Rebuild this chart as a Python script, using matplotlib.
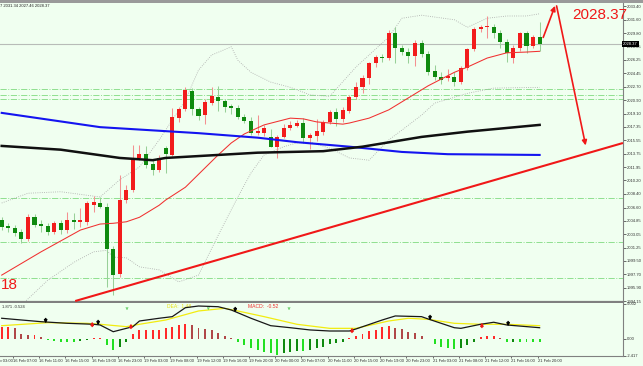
import matplotlib
matplotlib.use("Agg")
import matplotlib.pyplot as plt
import matplotlib.transforms as mtransforms
from matplotlib.patches import Rectangle
import numpy as np

# ---- XAUUSD H1 candles ----
opens = [2004.9, 2004.1, 2003.9, 2003.3, 2002.4, 2005.4, 2004.4, 2004.1, 2003.3, 2004.5,
         2003.6, 2004.9, 2004.7, 2004.7, 2007.0, 2007.2, 2006.7, 2001.1, 1997.8, 2007.6,
         2008.9, 2013.2, 2013.7, 2012.4, 2011.6, 2014.5, 2013.6, 2018.5, 2019.7, 2022.1,
         2019.7, 2018.9, 2020.5, 2021.3, 2020.8, 2020.1, 2019.9, 2018.7, 2018.1, 2016.5,
         2016.5, 2016.0, 2014.7, 2016.0, 2017.2, 2017.5, 2017.9, 2015.9, 2016.1, 2016.65,
         2018.0, 2019.3, 2018.4, 2019.5, 2021.3, 2022.6, 2023.9, 2025.8, 2026.6, 2026.5,
         2029.8, 2027.9, 2027.3, 2026.8, 2028.5, 2027.0, 2024.8, 2024.0, 2023.8, 2024.0,
         2023.3, 2025.2, 2027.7, 2030.4, 2030.6, 2030.7, 2029.8, 2028.6, 2026.5, 2027.9,
         2029.8, 2028.1, 2029.27]
highs = [2005.4, 2004.6, 2004.3, 2003.8, 2005.7, 2005.8, 2005.0, 2004.6, 2004.8, 2004.9,
         2006.0, 2005.9, 2006.6, 2007.5, 2008.1, 2008.0, 2007.2, 2001.5, 2010.9, 2009.6,
         2014.9, 2014.9, 2014.8, 2012.9, 2013.6, 2014.8, 2019.8, 2020.0, 2022.6, 2022.5,
         2020.0, 2021.0, 2022.6, 2022.8, 2021.1, 2020.4, 2020.3, 2019.0, 2018.7, 2018.9,
         2017.6, 2017.0, 2016.2, 2017.7, 2018.1, 2018.3, 2018.5, 2016.5, 2018.4, 2018.3,
         2019.6, 2019.8, 2020.0, 2021.6, 2023.3, 2024.2, 2026.0, 2026.9, 2027.0, 2030.3,
         2030.6, 2028.3, 2027.8, 2028.9, 2028.9, 2027.4, 2025.6, 2024.6, 2025.0, 2024.7,
         2025.4, 2027.9, 2030.7, 2030.9, 2032.1, 2031.0, 2030.3, 2029.0, 2028.2, 2030.0,
         2030.1, 2029.6, 2031.34]
lows = [2003.6, 2003.4, 2002.8, 2001.9, 2002.2, 2004.0, 2003.3, 2003.0, 2003.1, 2003.1,
        2003.2, 2003.8, 2004.0, 2004.3, 2006.0, 2006.6, 1996.0, 1995.0, 1997.3, 2007.2,
        2008.6, 2012.9, 2011.8, 2010.9, 2011.3, 2011.2, 2013.4, 2018.0, 2019.5, 2018.9,
        2018.2, 2017.7, 2020.3, 2019.5, 2019.3, 2019.0, 2018.4, 2017.8, 2016.2, 2016.2,
        2016.1, 2014.6, 2013.2, 2015.8, 2016.9, 2017.3, 2015.2, 2014.4, 2015.4, 2016.3,
        2017.7, 2017.5, 2018.0, 2019.2, 2021.0, 2021.8, 2023.0, 2025.3, 2026.0, 2026.2,
        2025.9, 2026.9, 2025.8, 2025.5, 2026.6, 2024.2, 2023.6, 2023.1, 2023.4, 2022.8,
        2023.0, 2024.9, 2027.5, 2030.0, 2029.2, 2029.2, 2027.9, 2026.0, 2025.8, 2027.4,
        2027.2, 2027.9, 2027.46]
closes = [2004.0, 2003.9, 2003.2, 2002.4, 2005.4, 2004.3, 2004.1, 2003.3, 2004.5, 2003.6,
          2004.9, 2004.7, 2004.9, 2007.2, 2007.3, 2006.7, 2001.1, 1997.6, 2007.6, 2008.9,
          2013.2, 2013.7, 2012.3, 2011.6, 2013.2, 2013.7, 2018.7, 2019.7, 2022.2, 2019.7,
          2018.8, 2020.6, 2021.4, 2020.8, 2020.0, 2019.8, 2018.6, 2018.1, 2016.5, 2016.8,
          2017.2, 2014.7, 2016.0, 2017.2, 2017.6, 2017.9, 2015.9, 2016.2, 2016.8, 2018.0,
          2019.3, 2018.4, 2019.6, 2021.3, 2022.6, 2023.9, 2025.8, 2026.6, 2026.5, 2029.8,
          2027.9, 2027.3, 2026.8, 2028.5, 2027.0, 2024.6, 2024.0, 2023.6, 2024.1, 2023.3,
          2025.2, 2027.7, 2030.4, 2030.6, 2030.7, 2029.8, 2028.6, 2027.2, 2027.9, 2029.8,
          2028.1, 2029.3, 2028.37]
last_price = 2028.37

# indicator lines, sampled at candle index
blue_idx = [0, 15, 30, 39, 45, 53, 61, 68, 82]
blue_ma = [2019.2, 2017.3, 2016.5, 2015.9, 2015.3, 2014.7, 2014.0, 2013.7, 2013.6]
black_idx = [0, 9, 18, 23, 25, 33, 39, 49, 55, 64, 71, 82]
black_ma = [2014.8, 2014.3, 2013.2, 2012.9, 2013.2, 2013.6, 2013.9, 2014.1, 2014.7, 2016.0, 2016.7, 2017.6]
red_idx = [0, 6, 12, 15, 17, 19, 21, 24, 25, 28, 33, 35, 37, 40, 44, 46, 48, 52, 53, 56,
           59, 62, 65, 69, 71, 74, 77, 80, 82]
red_ma = [1997.6, 2000.7, 2003.6, 2004.4, 2004.5, 2004.7, 2005.3, 2006.9, 2007.6, 2009.3,
          2013.6, 2015.2, 2016.4, 2017.6, 2018.5, 2018.4, 2018.0, 2017.7, 2017.85, 2018.5,
          2019.6, 2021.2, 2022.8, 2024.6, 2025.3, 2026.5, 2027.2, 2027.3, 2027.4]
bb_up_idx = [0, 4, 9, 15, 18, 21, 24, 28, 30, 32, 35, 36, 38, 41, 44, 47, 50, 54, 59, 61,
             64, 69, 71, 74, 77, 80, 82]
bb_up = [2007.2, 2008.5, 2008.7, 2008.0, 2010.3, 2012.0, 2015.6, 2020.9, 2024.9, 2026.9,
         2028.0, 2026.2, 2024.6, 2023.3, 2022.6, 2021.6, 2021.4, 2025.3, 2029.3, 2031.8,
         2032.2, 2031.6, 2030.6, 2031.8, 2032.1, 2032.1, 2032.4]
bb_lo_idx = [3, 7, 11, 14, 16, 17, 19, 21, 24, 27, 30, 33, 36, 38, 40, 43, 45, 47, 50, 53,
             56, 59, 61, 64, 66, 71, 75, 82]
bb_lo = [1993.6, 1996.9, 1999.3, 2000.7, 2000.9, 2000.0, 1999.9, 1998.7, 1998.3, 1996.7,
         1997.6, 2002.9, 2008.0, 2011.2, 2013.6, 2014.7, 2015.2, 2015.3, 2014.5, 2013.2,
         2012.9, 2015.6, 2016.9, 2018.9, 2020.5, 2021.8, 2022.5, 2022.6]
levels = [2022.38, 2021.58, 2021.05, 2007.86, 2002.0, 1997.2]
trend_idx = [11.2, 94.7]
trend_px = [1994.15, 2015.19]
path_idx = [82.4, 84.5, 89.1]
path_px = [2028.9, 2033.8, 2014.5]

price_ticks = [1994.15, 1995.90, 1997.70, 1999.50, 2001.25, 2003.05, 2004.85, 2006.60,
               2008.40, 2010.20, 2011.95, 2013.75, 2015.55, 2017.35, 2019.10, 2020.90,
               2022.70, 2024.45, 2026.25, 2028.05, 2029.80, 2031.60, 2033.40]

# ---- MACD panel ----
hist = [1.76, 1.76, 1.52, 0.67, 0.57, 0.57, 0.33, -0.14, -0.29, -0.38,
        -0.38, -0.38, -0.29, -0.19, 0.10, 0.19, -0.86, -1.57, -1.10, -0.38,
        0.67, 1.29, 1.29, 1.29, 1.29, 1.52, 1.76, 2.00, 2.10, 2.00,
        1.62, 1.43, 1.29, 0.81, 0.48, 0.19, -0.38, -0.86, -1.33, -1.57,
        -1.81, -2.05, -2.29, -2.05, -1.81, -1.71, -1.71, -1.57, -1.30, -1.10,
        -0.76, -0.62, -0.48, 0.19, 0.48, 0.67, 1.14, 1.29, 1.76, 1.90,
        1.62, 1.43, 1.05, 0.81, 0.48, -0.05, -0.76, -1.10, -1.24, -1.43,
        -1.24, -0.86, -0.38, 0.33, 0.48, 0.48, 0.19, -0.48, -0.38, -0.38,
        -0.38, -0.38, -0.48]
macd_idx = [0, 6, 10, 14, 15, 17, 20, 21, 24, 26, 28, 30, 33, 35, 38, 41, 44, 47, 50, 53,
            54, 58, 60, 64, 65, 69, 70, 73, 75, 77, 82]
macd_line = [2.96, 2.47, 2.24, 2.10, 2.00, 1.04, 1.76, 2.57, 2.96, 3.19, 4.47, 4.71, 4.61,
             4.14, 2.96, 1.90, 1.61, 1.29, 1.14, 1.14, 1.43, 2.71, 3.29, 3.19, 2.86, 1.61,
             1.52, 2.10, 2.39, 2.00, 1.61]
sig_idx = [0, 7, 13, 15, 19, 21, 25, 30, 34, 36, 40, 45, 50, 54, 59, 62, 65, 69, 73, 77, 82]
sig_line = [1.90, 2.33, 2.24, 2.10, 1.76, 2.10, 2.71, 4.00, 4.38, 4.00, 3.19, 2.10, 1.52,
            1.52, 2.57, 2.96, 2.81, 2.24, 2.10, 2.10, 1.90]
sell_idx = [6.7, 14.7, 35.6, 65.3, 77.2]
sell_val = [2.57, 2.29, 4.14, 3.00, 2.14]
buy_idx = [13.8, 19.7, 53.4, 73.2]
buy_val = [2.14, 1.86, 1.29, 2.00]
hint_idx = [19.1, 31.5, 43.8]

tick_idx = [2, 6, 10, 14, 18, 22, 26, 30, 34, 38, 42, 46, 50, 54, 58, 62, 66, 70, 74, 78, 82]
tick_lbl = ["16 Feb 07:00", "16 Feb 11:00", "16 Feb 15:00", "16 Feb 19:00", "16 Feb 23:00",
            "19 Feb 03:00", "19 Feb 08:00", "19 Feb 12:00", "19 Feb 16:00", "19 Feb 20:00",
            "20 Feb 00:00", "20 Feb 07:00", "20 Feb 11:00", "20 Feb 15:00", "20 Feb 19:00",
            "20 Feb 23:00", "21 Feb 03:00", "21 Feb 08:00", "21 Feb 12:00", "21 Feb 16:00",
            "21 Feb 20:00"]

BG = "#F0FFF0"
GRID = "#808080"
FONT = "Liberation Sans"
SMALL = 3.0
W, H = 643, 366


def box(x0, y0, x1, y1):
    return [x0 / W, 1 - y1 / H, (x1 - x0) / W, (y1 - y0) / H]


fig = plt.figure(figsize=(6.43, 3.66), dpi=100)
fig.patch.set_facecolor(BG)
fig.patches.append(Rectangle((0, 1 - 2.5 / H), 1, 2.5 / H, transform=fig.transFigure,
                             facecolor="#9A9A9A", edgecolor="none"))
ax = fig.add_axes(box(0, 3, 623, 302))
axm = fig.add_axes(box(0, 303, 623, 356), sharex=ax)
for a in (ax, axm):
    a.set_facecolor(BG)
    a.spines["left"].set_visible(False)
    a.spines["top"].set_visible(False)
    a.spines["right"].set_color(GRID)
    a.spines["right"].set_linewidth(0.8)
    a.spines["bottom"].set_color(GRID)
ax.spines["bottom"].set_linewidth(1.6)
axm.spines["bottom"].set_linewidth(0.8)

n = len(opens)
x = np.arange(n)
ax.set_xlim(-0.26, 94.71)
ax.set_ylim(1994.02, 2033.83)

# support / resistance levels and bid line
for lv in levels:
    ax.axhline(lv, color="#8FE08F", lw=0.7, ls="-.", zorder=1)
ax.axhline(last_price, color="#B8BCB8", lw=0.8, zorder=1)

# bands
ax.plot(bb_up_idx, bb_up, color="#A8A8A8", lw=0.6, ls=":", zorder=2)
ax.plot(bb_lo_idx, bb_lo, color="#A8A8A8", lw=0.6, ls=":", zorder=2)

# candles
for i in range(n):
    o, h, l, c = opens[i], highs[i], lows[i], closes[i]
    up = c >= o
    ax.vlines(i, l, h, color="#F49090" if up else "#98D098", lw=0.75, zorder=3)
    body = max(abs(c - o), 0.12)
    ax.bar(i, body, bottom=min(o, c), width=0.62, color="#F21C1C" if up else "#0F8A0F",
           linewidth=0, zorder=4)

# moving averages
ax.plot(red_idx, red_ma, color="#F03030", lw=0.75, zorder=5)
ax.plot(blue_idx, blue_ma, color="#1414F0", lw=1.5, zorder=5)
ax.plot(black_idx, black_ma, color="#101010", lw=1.8, zorder=5)

# trend line and projected path
ax.plot(trend_idx, trend_px, color="#F01818", lw=1.5, zorder=6, solid_capstyle="butt")
ax.annotate("", xy=(path_idx[1], path_px[1]), xytext=(path_idx[0], path_px[0]),
            arrowprops=dict(arrowstyle="-|>", color="#F01818", lw=1.2, mutation_scale=7),
            annotation_clip=False, zorder=7)
ax.annotate("", xy=(path_idx[2], path_px[2]), xytext=(path_idx[1], path_px[1]),
            arrowprops=dict(arrowstyle="-|>", color="#F01818", lw=1.2, mutation_scale=7),
            annotation_clip=False, zorder=7)

ax.text(86.9, 2032.2, "2028.37", color="#F01818", fontsize=11, family=FONT,
        ha="left", va="center", zorder=8)
ax.text(2.5, 1996.3, "18", color="#F01818", fontsize=11, family=FONT,
        ha="right", va="center", zorder=8)
ax.text(0.0, 0.998, "7 2031.34 2027.46 2028.37", transform=ax.transAxes, fontsize=SMALL,
        family=FONT, color="#202020", ha="left", va="top")

# right price scale
ax.yaxis.tick_right()
ax.set_yticks(price_ticks)
ax.set_yticklabels(["%.2f" % p for p in price_ticks], family=FONT)
ax.tick_params(axis="y", direction="out", length=2, width=0.5, pad=0.8, labelsize=SMALL,
               colors="#303030")
ax.tick_params(axis="x", bottom=False, labelbottom=False)
ax.text(1.0, last_price, "%.2f" % last_price,
        transform=mtransforms.blended_transform_factory(ax.transAxes, ax.transData),
        fontsize=SMALL, family=FONT, color="white", ha="left", va="center", zorder=10,
        bbox=dict(facecolor="black", edgecolor="none", pad=0.9), clip_on=False)

# ---- MACD ----
axm.set_ylim(-2.43, 5.14)
hcol = []
for i, v in enumerate(hist):
    prev = hist[i - 1] if i else v
    if v >= 0:
        hcol.append("#FF2A2A" if v >= prev else "#B04848")
    else:
        hcol.append("#22E022" if v <= prev else "#0E8A0E")
axm.bar(x, hist, width=0.3, color=hcol, linewidth=0, zorder=2)
axm.plot(sig_idx, sig_line, color="#F2EC10", lw=0.9, zorder=3)
axm.plot(macd_idx, macd_line, color="#181818", lw=0.9, zorder=4)
for xi, v in zip(sell_idx, sell_val):
    axm.annotate("", xy=(xi, v - 0.75), xytext=(xi, v + 0.75),
                 arrowprops=dict(arrowstyle="-|>", color="black", lw=1.1, mutation_scale=4),
                 zorder=5)
for xi, v in zip(buy_idx, buy_val):
    axm.annotate("", xy=(xi, v + 0.75), xytext=(xi, v - 0.75),
                 arrowprops=dict(arrowstyle="-|>", color="#F01818", lw=1.1, mutation_scale=4),
                 zorder=5)
for xi in hint_idx:
    axm.annotate("", xy=(xi, 3.7), xytext=(xi, 4.9),
                 arrowprops=dict(arrowstyle="->", color="#6CD06C", lw=0.6, mutation_scale=3.5),
                 zorder=5)
axm.text(0.003, 0.97, "1.871 -0.524", transform=axm.transAxes, fontsize=SMALL,
         family=FONT, color="#303030", ha="left", va="top")
axm.text(25.2, 4.65, "DEA:  1.48", color="#E8E010", fontsize=3.6, family=FONT,
         ha="left", va="center")
axm.text(37.5, 4.65, "MACD:  -0.52", color="#F03030", fontsize=3.6, family=FONT,
         ha="left", va="center")

axm.yaxis.tick_right()
axm.set_yticks([5.002, 0.0, -2.417])
axm.set_yticklabels(["5.002", "0.00", "-2.417"], family=FONT)
axm.tick_params(axis="y", direction="out", length=2, width=0.5, pad=0.8, labelsize=SMALL,
                colors="#303030")
axm.set_xticks([t - 0.3 for t in tick_idx])
axm.set_xticklabels(tick_lbl, family=FONT)
axm.tick_params(axis="x", direction="out", length=1.5, width=0.5, pad=1.0, labelsize=SMALL,
                colors="#303030")
plt.setp(axm.get_xticklabels(), ha="left")
# first label runs off the left edge, as in the terminal
axm.text(-2.0, -0.05, "16 Feb 03:00",
         transform=mtransforms.blended_transform_factory(axm.transData, axm.transAxes),
         fontsize=SMALL, family=FONT, color="#303030", ha="left", va="top")

fig.savefig("out.png", dpi=100, facecolor=BG)
